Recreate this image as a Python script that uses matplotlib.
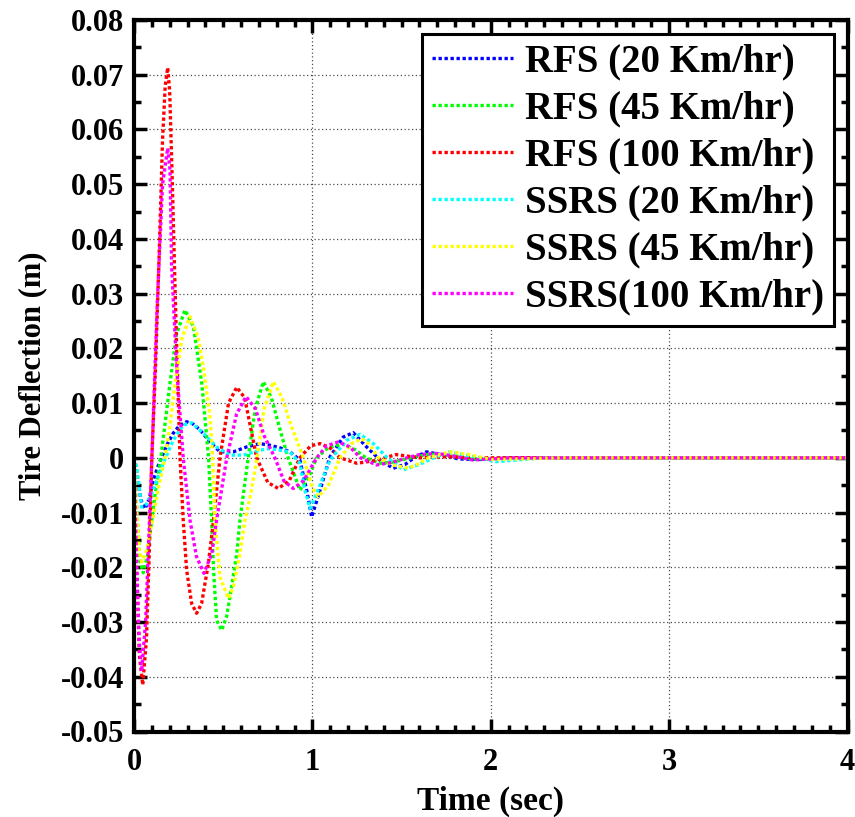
import matplotlib
matplotlib.use("Agg")
import matplotlib.pyplot as plt
from matplotlib.ticker import MultipleLocator

# values (time in s, deflection in m)
t_rfs20 = [0, 0.02, 0.04, 0.062, 0.085, 0.108, 0.135, 0.164, 0.19, 0.22, 0.255, 0.295, 0.33, 0.37,
           0.426, 0.482, 0.557, 0.632, 0.706, 0.762, 0.82, 0.874, 0.93, 0.968, 0.996, 1.043, 1.099,
           1.173, 1.229, 1.304, 1.379, 1.453, 1.52, 1.57, 1.64, 1.72, 1.82, 1.95, 2.1, 2.3, 4.0]
v_rfs20 = [0, -0.004, -0.0078, -0.0093, -0.0075, -0.0041, -0.0015, 0.0008, 0.0027, 0.0045, 0.0059,
           0.0066, 0.0062, 0.0051, 0.0029, 0.0011, 0.0011, 0.002, 0.0026, 0.0023, 0.0018, 0.0011,
           -0.0004, -0.0059, -0.0108, -0.0059, 0.0002, 0.0038, 0.0046, 0.002, -0.0004, -0.0019,
           -0.0012, 0.0, 0.0011, 0.0006, -0.0002, -0.0003, 0, 0, 0]

t_rfs45 = [0, 0.02, 0.035, 0.052, 0.075, 0.099, 0.125, 0.15, 0.175, 0.202, 0.239, 0.286, 0.333,
           0.38, 0.418, 0.435, 0.446, 0.463, 0.492, 0.519, 0.547, 0.576, 0.594, 0.64, 0.68, 0.725,
           0.77, 0.82, 0.864, 0.93, 0.98, 1.024, 1.09, 1.17, 1.24, 1.3, 1.38, 1.45, 1.55, 1.66, 1.78,
           1.9, 2.1, 4.0]
v_rfs45 = [0, -0.012, -0.019, -0.021, -0.018, -0.0114, -0.005, 0.0, 0.0065, 0.0137, 0.0227, 0.027,
           0.024, 0.0136, 0.0, -0.0114, -0.0205, -0.0297, -0.0315, -0.029, -0.0236, -0.0175,
           -0.0114, 0.0, 0.009, 0.0139, 0.011, 0.005, 0.0, -0.0059, -0.0035, 0.0, 0.0019, 0.0025,
           0.0015, 0.0, -0.001, -0.0008, 0.0, 0.0007, 0.0003, -0.0002, 0, 0]

t_rfs100 = [0, 0.015, 0.03, 0.049, 0.07, 0.085, 0.1, 0.12, 0.14, 0.16, 0.175, 0.189, 0.2, 0.215,
            0.235, 0.258, 0.276, 0.295, 0.323, 0.351, 0.379, 0.417, 0.446, 0.482, 0.53, 0.576,
            0.62, 0.688, 0.75, 0.809, 0.87, 0.93, 0.99, 1.043, 1.1, 1.155, 1.25, 1.35, 1.47, 1.6,
            1.75, 2.0, 4.0]
v_rfs100 = [0, -0.02, -0.036, -0.0415, -0.033, -0.018, 0.0, 0.016, 0.036, 0.058, 0.068, 0.0713,
            0.067, 0.05, 0.025, 0.0, -0.0114, -0.0205, -0.0266, -0.0284, -0.0266, -0.0193,
            -0.0114, 0.0, 0.01, 0.0129, 0.011, 0.0, -0.0045, -0.0056, -0.0042, 0.0, 0.0022,
            0.0026, 0.0018, 0.0, -0.001, -0.0005, 0.0006, 0.0, 0.0002, 0, 0]

t_ssrs20 = [0, 0.015, 0.043, 0.07, 0.108, 0.135, 0.164, 0.19, 0.22, 0.276, 0.323, 0.389, 0.463,
            0.538, 0.613, 0.706, 0.762, 0.874, 0.93, 0.958, 0.987, 1.024, 1.099, 1.192, 1.267,
            1.342, 1.42, 1.509, 1.6, 1.68, 1.77, 1.9, 2.03, 2.3, 4.0]
v_ssrs20 = [0, -0.0016, -0.009, -0.0085, -0.0059, -0.0035, -0.001, 0.001, 0.0032, 0.006, 0.0064,
            0.0045, 0.002, 0.0005, 0.0005, 0.0014, 0.0017, 0.0011, -0.001, -0.0059, -0.0092,
            -0.0065, -0.0004, 0.0032, 0.0043, 0.0026, 0.0, -0.0022, -0.0012, 0.0, 0.0011,
            0.0002, -0.0007, 0, 0]

t_ssrs45 = [0, 0.015, 0.03, 0.043, 0.07, 0.1, 0.14, 0.174, 0.2, 0.23, 0.27, 0.314, 0.36, 0.389,
            0.426, 0.441, 0.454, 0.482, 0.529, 0.557, 0.594, 0.622, 0.65, 0.69, 0.73, 0.781,
            0.83, 0.88, 0.95, 1.0, 1.033, 1.09, 1.155, 1.22, 1.276, 1.32, 1.37, 1.45, 1.538, 1.6,
            1.65, 1.77, 1.88, 2.0, 2.15, 2.4, 4.0]
v_ssrs45 = [0, -0.01, -0.017, -0.019, -0.017, -0.012, -0.005, 0.0, 0.0055, 0.0136, 0.022, 0.0258,
            0.022, 0.0166, 0.0075, 0.0, -0.0114, -0.0218, -0.0257, -0.0236, -0.0175, -0.0114,
            -0.0074, 0.0, 0.009, 0.0139, 0.011, 0.006, 0.0, -0.0055, -0.0071, -0.005, 0.0,
            0.0026, 0.0035, 0.0025, 0.0, -0.0013, -0.0019, -0.001, 0.0, 0.0011, 0.0006, -0.0003,
            -0.0002, 0, 0]

t_ssrs100 = [0, 0.015, 0.03, 0.043, 0.065, 0.1, 0.13, 0.16, 0.189, 0.202, 0.211, 0.24, 0.276,
             0.314, 0.35, 0.392, 0.436, 0.463, 0.52, 0.575, 0.628, 0.68, 0.73, 0.79, 0.84, 0.893,
             0.95, 1.024, 1.08, 1.145, 1.21, 1.27, 1.36, 1.45, 1.53, 1.6, 1.697, 1.78, 1.9, 2.1,
             4.0]
v_ssrs100 = [0, -0.02, -0.034, -0.039, -0.03, 0.0, 0.028, 0.05, 0.0566, 0.0526, 0.035, 0.016, 0.0,
             -0.0114, -0.018, -0.0211, -0.0175, -0.0114, 0.0, 0.008, 0.0112, 0.009, 0.004, 0.0,
             -0.0042, -0.0056, -0.0042, 0.0, 0.0022, 0.0029, 0.002, 0.0, -0.0013, -0.0008, 0.0,
             0.0006, 0.0008, 0.0004, -0.0004, 0, 0]

labels = ["RFS (20 Km/hr)", "RFS (45 Km/hr)", "RFS (100 Km/hr)",
          "SSRS (20 Km/hr)", "SSRS (45 Km/hr)", "SSRS(100 Km/hr)"]
colors = ["#0000ff", "#00ff00", "#ff0000", "#00ffff", "#ffff00", "#ff00ff"]
x_ticks = [0, 1, 2, 3, 4]
y_ticks = [-0.05, -0.04, -0.03, -0.02, -0.01, 0, 0.01, 0.02, 0.03, 0.04, 0.05, 0.06, 0.07, 0.08]
y_ticklabels = ["-0.05", "-0.04", "-0.03", "-0.02", "-0.01", "0", "0.01", "0.02", "0.03",
                "0.04", "0.05", "0.06", "0.07", "0.08"]

series = [(t_rfs20, v_rfs20), (t_rfs45, v_rfs45), (t_rfs100, v_rfs100),
          (t_ssrs20, v_ssrs20), (t_ssrs45, v_ssrs45), (t_ssrs100, v_ssrs100)]

plt.rcParams["font.family"] = ["Liberation Serif", "DejaVu Serif"]
plt.rcParams["font.weight"] = "bold"

fig = plt.figure(figsize=(8.55, 8.17), dpi=100)
ax = fig.add_axes([134/855, 1-731.5/817, (847.5-134)/855, (731.5-20)/817])

for (t, v), lab, c in zip(series, labels, colors):
    ax.plot(t, v, color=c, lw=2.4, linestyle=(0, (1, 0.8)), label=lab)

ax.set_xlim(0, 4)
ax.set_ylim(-0.05, 0.08)
ax.set_xticks(x_ticks)
ax.set_xticklabels([str(x) for x in x_ticks])
ax.set_yticks(y_ticks)
ax.set_yticklabels(y_ticklabels)
ax.xaxis.set_minor_locator(MultipleLocator(0.1))
ax.yaxis.set_minor_locator(MultipleLocator(0.005))

ax.grid(True, which="major", color="black", linestyle=(0, (1, 2)), lw=0.9, alpha=0.7)
ax.tick_params(which="both", direction="in", top=True, right=True, width=2.5)
ax.tick_params(which="major", length=9.5, labelsize=22, pad=7)
ax.tick_params(axis="x", which="major", pad=12)
ax.tick_params(which="minor", length=5)
for s in ax.spines.values():
    s.set_linewidth(3)

ax.set_xlabel("Time (sec)", fontsize=24, fontweight="bold", labelpad=6)
ax.set_ylabel("Tire Deflection (m)", fontsize=22, fontweight="bold", labelpad=10)

leg = ax.legend(loc="upper right", prop={"weight": "bold", "size": 28},
                handlelength=2.1, handletextpad=0.3, labelspacing=0.26, borderpad=0.25,
                borderaxespad=0.35, fancybox=False, framealpha=1, edgecolor="black")
leg.get_frame().set_linewidth(2.2)

fig.savefig("out.png", dpi=100)
